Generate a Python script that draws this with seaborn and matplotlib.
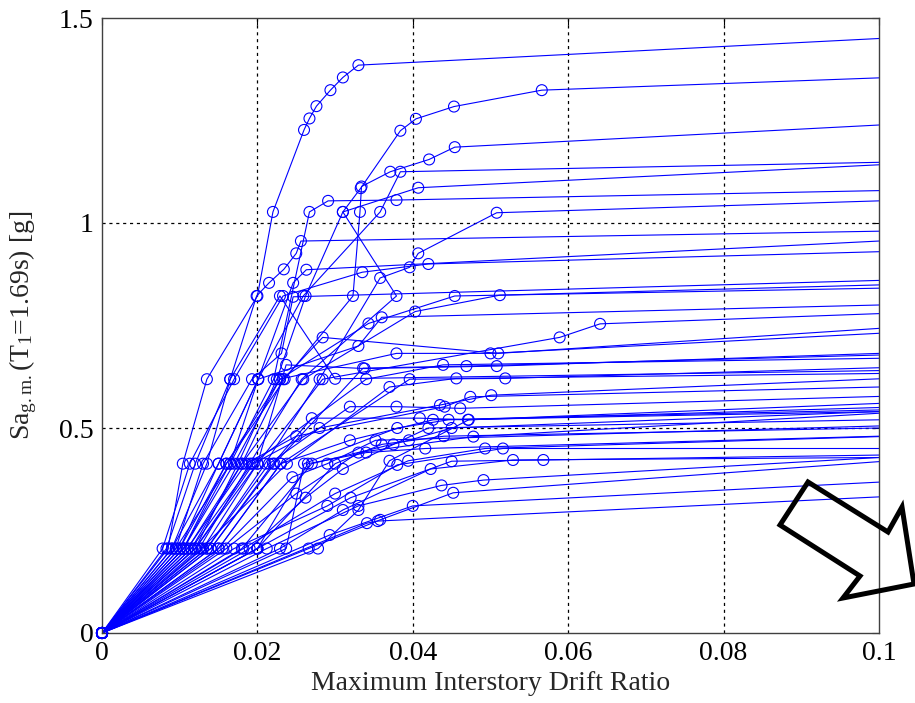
import numpy as np
import pandas as pd
import matplotlib
matplotlib.use("Agg")
import matplotlib.pyplot as plt
from matplotlib.patches import Polygon
import seaborn as sns

# ---- IDA records: (max interstory drift ratio, Sa_g.m.) ; last pair = flat-line value at drift 0.1
R01 = ([0, .0085, .0104, .0135, .0200, .0220, .0260, .0267, .0276, .0294, .0310, .0330, .1],
       [0, .206, .413, .619, .822, 1.027, 1.227, 1.255, 1.285, 1.324, 1.355, 1.385, 1.450])
R02 = ([0, .0120, .0175, .0225, .0262, .0310, .0333, .0384, .0404, .0453, .0566, .1],
       [0, .206, .413, .619, .822, 1.027, 1.085, 1.225, 1.254, 1.284, 1.324, 1.354])
R03 = ([0, .0105, .0160, .0235, .0323, .0332, .0334, .0371, .0421, .0454, .1],
       [0, .206, .413, .619, .822, 1.027, 1.089, 1.125, 1.155, 1.185, 1.239])
R04 = ([0, .0090, .0150, .0201, .0259, .0358, .0384, .1],
       [0, .206, .413, .619, .822, 1.027, 1.125, 1.148])
R05 = ([0, .0125, .0190, .0257, .0379, .0310, .0407, .1],
       [0, .206, .413, .619, .822, 1.027, 1.086, 1.142])
R06 = ([0, .0105, .0165, .0221, .0267, .0291, .0379, .1],
       [0, .206, .413, .619, 1.027, 1.054, 1.056, 1.079])
R07 = ([0, .0135, .0210, .0280, .0358, .0396, .0407, .0508, .1],
       [0, .206, .413, .619, .866, .892, .926, 1.025, 1.054])
R08 = ([0, .0090, .0135, .0165, .0199, .0215, .0234, .0250, .0256, .1],
       [0, .206, .413, .619, .822, .854, .887, .926, .956, .980])
R09 = ([0, .0095, .0165, .0201, .0246, .0263, .1],
       [0, .206, .413, .619, .854, .886, .956])
R10 = ([0, .0115, .0180, .0259, .0403, .0512, .1],
       [0, .206, .413, .619, .784, .824, .849])
R11 = ([0, .0100, .0160, .0229, .0343, .0454, .1],
       [0, .206, .413, .619, .755, .822, .841])
R12 = ([0, .0120, .0200, .0284, .0589, .0641, .1],
       [0, .206, .413, .619, .721, .754, .779])
R13 = ([0, .0110, .0180, .0233, .0284, .0510, .1],
       [0, .206, .413, .619, .721, .682, .743])
R14 = ([0, .0105, .0170, .0229, .0379, .0500, .1],
       [0, .206, .413, .619, .682, .682, .731])
R15 = ([0, .0130, .0200, .0237, .0338, .0508, .1],
       [0, .206, .413, .654, .645, .651, .682])
R16 = ([0, .0140, .0222, .0336, .0469, .1],
       [0, .206, .413, .646, .651, .678])
R17 = ([0, .0115, .0193, .0340, .0439, .1],
       [0, .206, .413, .619, .654, .670])
R18 = ([0, .0150, .0230, .0396, .0519, .1],
       [0, .206, .413, .619, .621, .647])
R19 = ([0, .0128, .0238, .0370, .0456, .1],
       [0, .206, .413, .600, .621, .633])
R20 = ([0, .0341, .0355, .1],
       [0, .268, .273, .332])
R21 = ([0, .0293, .0400, .1],
       [0, .239, .310, .368])
R22 = ([0, .0266, .0358, .0452, .1],
       [0, .206, .276, .342, .418])
R23 = ([0, .0212, .0330, .0437, .0491, .1],
       [0, .206, .310, .360, .373, .428])
R24 = ([0, .0229, .0310, .0423, .0529, .1],
       [0, .206, .300, .400, .422, .428])
R25 = ([0, .0200, .0320, .0450, .0568, .1],
       [0, .206, .330, .419, .422, .434])
R26 = ([0, .0182, .0300, .0394, .0493, .1],
       [0, .206, .340, .420, .450, .479])
R27 = ([0, .0170, .0290, .0380, .0516, .1],
       [0, .206, .310, .410, .450, .450])
R28 = ([0, .0160, .0250, .0330, .0478, .1],
       [0, .206, .340, .440, .479, .536])
R29 = ([0, .0150, .0230, .0319, .0426, .1],
       [0, .206, .413, .470, .520, .544])
R30 = ([0, .0140, .0220, .0270, .0409, .0471, .1],
       [0, .206, .413, .524, .524, .520, .550])
R31 = ([0, .0135, .0215, .0319, .0379, .0461, .1],
       [0, .206, .413, .552, .552, .548, .577])
R32 = ([0, .0120, .0195, .0280, .0435, .0501, .1],
       [0, .206, .413, .500, .556, .580, .620])
R33 = ([0, .0110, .0185, .0250, .0441, .0474, .1],
       [0, .206, .413, .480, .552, .576, .600])
R34 = ([0, .0278, .0330, .0370, .0472, .1],
       [0, .206, .300, .420, .520, .560])
R35 = ([0, .0083, .0120, .0165, .0229, .0300, .1],
       [0, .206, .413, .619, .822, .620, .640])
R36 = ([0, .0095, .0130, .0193, .0231, .0246, .1],
       [0, .206, .413, .619, .682, .820, .860])
R37 = ([0, .0100, .0150, .0201, .0330, .0360, .1],
       [0, .206, .413, .619, .700, .770, .800])
R38 = ([0, .0180, .0270, .0395, .0450, .1],
       [0, .206, .413, .470, .500, .540])
R39 = ([0, .0200, .0265, .0340, .0416, .1],
       [0, .206, .413, .440, .450, .480])
R40 = ([0, .0237, .0260, .0380, .0446, .1],
       [0, .206, .413, .500, .520, .540])
R41 = ([0, .0078, .0113, .0170, .0233, .0335, .0420, .1],
       [0, .206, .413, .619, .822, .880, .900, .930])
R42 = ([0, .0200, .0300, .0360, .0440, .1],
       [0, .206, .413, .460, .480, .500])
R43 = ([0, .0190, .0262, .0310, .0375, .0420, .1],
       [0, .206, .330, .400, .460, .500, .520])
R44 = ([0, .0155, .0245, .0290, .0352, .1],
       [0, .206, .380, .413, .470, .505])

records = [R01, R02, R03, R04, R05, R06, R07, R08, R09, R10, R11, R12, R13, R14,
           R15, R16, R17, R18, R19, R20, R21, R22, R23, R24, R25, R26, R27, R28,
           R29, R30, R31, R32, R33, R34, R35, R36, R37, R38, R39, R40, R41, R42,
           R43, R44]

x_ticks = [0, 0.02, 0.04, 0.06, 0.08, 0.1]
x_tick_labels = ["0", "0.02", "0.04", "0.06", "0.08", "0.1"]
y_ticks = [0, 0.5, 1.0, 1.5]
y_tick_labels = ["0", "0.5", "1", "1.5"]

rows = []
for i, (dr, sa) in enumerate(records):
    n = len(dr)
    for j in range(n):
        rows.append({"rec": i, "order": j, "drift": dr[j], "sa": sa[j], "flat": j == n - 1})
df = pd.DataFrame(rows)

sns.set_theme(style="white")
plt.rcParams["font.family"] = ["Liberation Serif", "DejaVu Serif"]
plt.rcParams["mathtext.fontset"] = "custom"
plt.rcParams["mathtext.rm"] = "Liberation Serif"
plt.rcParams["mathtext.it"] = "Liberation Serif"

fig = plt.figure(figsize=(9.15, 7.03), dpi=100)
ax = fig.add_axes([102 / 915, 1 - 633 / 703, 777 / 915, 615 / 703])

for v in x_ticks[1:-1]:
    ax.axvline(v, color="black", lw=0.9, ls=(0, (2.5, 3.0)), zorder=0.5)
for v in y_ticks[1:-1]:
    ax.axhline(v, color="black", lw=0.9, ls=(0, (2.5, 3.0)), zorder=0.5)

sns.lineplot(data=df, x="drift", y="sa", units="rec", estimator=None, sort=False,
             color="#0000ff", lw=0.8, ax=ax, legend=False, zorder=2)
sns.scatterplot(data=df[~df["flat"]], x="drift", y="sa", marker="o", s=62,
                facecolor="none", edgecolor="#0000ff", linewidth=0.8, ax=ax,
                legend=False, zorder=3, clip_on=False)

ax.set_xlim(0, 0.1)
ax.set_ylim(0, 1.5)
ax.set_xticks(x_ticks)
ax.set_xticklabels(x_tick_labels)
ax.set_yticks(y_ticks)
ax.set_yticklabels(y_tick_labels)
ax.tick_params(direction="in", length=5, width=0.8, labelsize=20, colors="black",
               top=True, right=True, pad=6)
for s in ax.spines.values():
    s.set_color("#404040")
    s.set_linewidth(1.0)
    s.set_visible(True)

ax.set_xlabel("Maximum Interstory Drift Ratio", fontsize=20, labelpad=3)
ax.set_ylabel(r"Sa$_{\mathrm{g.m.}}$(T$_1$=1.69s) [g]", fontsize=20, labelpad=14)

# decorative outline arrow at lower right (figure pixel coordinates)
arrow_px = [(808, 482), (888, 532), (902, 507), (914, 584), (843, 598), (860, 576), (780, 525)]
arrow_fig = [(px / 915, 1 - py / 703) for px, py in arrow_px]
fig.add_artist(Polygon(arrow_fig, closed=True, fill=False, edgecolor="black", lw=3.6,
                       joinstyle="miter", transform=fig.transFigure, zorder=10))

fig.savefig("out.png", dpi=100, facecolor="white")
